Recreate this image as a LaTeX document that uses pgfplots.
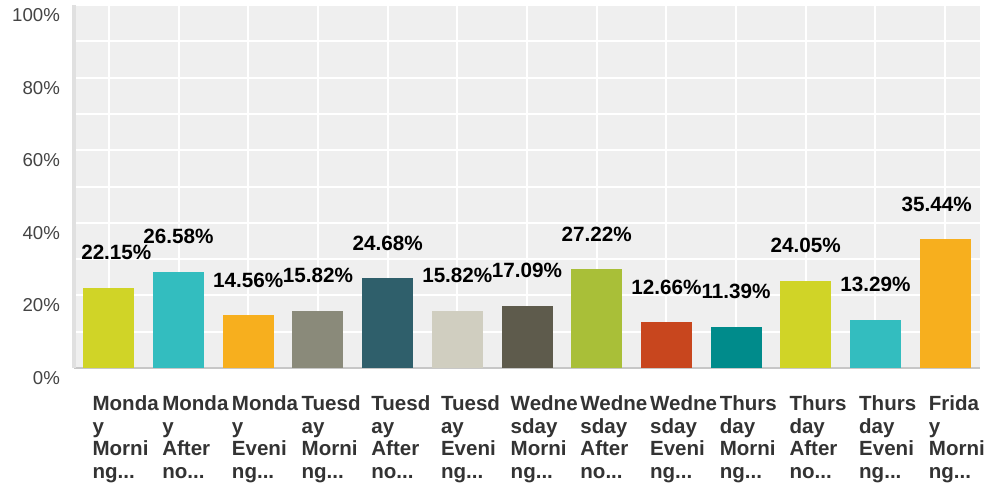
\documentclass[border=0pt]{standalone}
\usepackage{pgfplots}
\pgfplotsset{compat=1.18}
\usepackage{fontspec}
\setmainfont{Liberation Sans}
% 1px of the reference = 0.75pt
\definecolor{cLime}{HTML}{D0D427}
\definecolor{cCyan}{HTML}{33BDBF}
\definecolor{cOrange}{HTML}{F7AF1E}
\definecolor{cGrey}{HTML}{8A8A7A}
\definecolor{cPetrol}{HTML}{2F5F6B}
\definecolor{cBeige}{HTML}{D0CEC0}
\definecolor{cOlive}{HTML}{5E5B4C}
\definecolor{cGreen}{HTML}{A9BF38}
\definecolor{cRust}{HTML}{C8461E}
\definecolor{cTeal}{HTML}{008B8B}
\definecolor{plotbg}{HTML}{EFEFEF}
\definecolor{ticktext}{HTML}{444444}
\newcommand{\tr}{.{}.{}.}
\pgfplotsset{survbar/.style={ybar, fill=#1, draw=none, bar width=38.25pt, bar shift=0pt}}
\begin{document}
\begin{tikzpicture}
\begin{axis}[
    scale only axis, width=679.5pt, height=272.25pt,
    xmin=-0.5, xmax=12.5, ymin=0, ymax=100,
    /pgf/number format/assume math mode=true,
    axis background/.style={fill=plotbg},
    axis x line*=bottom, axis y line*=left,
    x axis line style={-, draw=black!22, line width=1.5pt},
    y axis line style={-, draw=black!12, line width=3pt},
    ytick={0,20,40,60,80,100}, minor ytick={10,30,50,70,90},
    yticklabels={0\%,20\%,40\%,60\%,80\%,100\%},
    grid=both, major grid style={white, line width=1.5pt},
    minor grid style={white, line width=1.5pt},
    major tick length=0pt, minor tick length=0pt,
    yticklabel style={font=\fontsize{14}{16}\selectfont, text=ticktext, yshift=-7.5pt, xshift=-7pt},
    xtick={0,1,2,3,4,5,6,7,8,9,10,11,12},
    xticklabels={{Monda\\y\\Morni\\ng\tr},{Monda\\y\\After\\no\tr},{Monda\\y\\Eveni\\ng\tr},
        {Tuesd\\ay\\Morni\\ng\tr},{Tuesd\\ay\\After\\no\tr},{Tuesd\\ay\\Eveni\\ng\tr},
        {Wedne\\sday\\Morni\\ng\tr},{Wedne\\sday\\After\\no\tr},{Wedne\\sday\\Eveni\\ng\tr},
        {Thurs\\day\\Morni\\ng\tr},{Thurs\\day\\After\\no\tr},{Thurs\\day\\Eveni\\ng\tr},
        {Frida\\y\\Morni\\ng\tr}},
    xticklabel style={font=\bfseries\fontsize{15.4}{16.9}\selectfont, text=black!80,
        anchor=north west, align=left, inner sep=0pt, xshift=-12.4pt, yshift=-20.75pt},
    nodes near coords={\pgfmathprintnumber[fixed,fixed zerofill,precision=2]{\pgfplotspointmeta}\%},
    every node near coord/.append style={font=\bfseries\fontsize{15.5}{18}\selectfont,
        text=black, anchor=base, yshift=21pt, inner sep=0pt},
]
\addplot[survbar=cLime, every node near coord/.append style={xshift=5.6pt}] coordinates {(0,22.15)};
\addplot[survbar=cCyan] coordinates {(1,26.58)};
\addplot[survbar=cOrange] coordinates {(2,14.56)};
\addplot[survbar=cGrey] coordinates {(3,15.82)};
\addplot[survbar=cPetrol] coordinates {(4,24.68)};
\addplot[survbar=cBeige] coordinates {(5,15.82)};
\addplot[survbar=cOlive] coordinates {(6,17.09)};
\addplot[survbar=cGreen] coordinates {(7,27.22)};
\addplot[survbar=cRust] coordinates {(8,12.66)};
\addplot[survbar=cTeal] coordinates {(9,11.39)};
\addplot[survbar=cLime] coordinates {(10,24.05)};
\addplot[survbar=cCyan] coordinates {(11,13.29)};
\addplot[survbar=cOrange, every node near coord/.append style={xshift=-6.4pt}] coordinates {(12,35.44)};
\end{axis}
\pgfresetboundingbox
\path[use as bounding box] ([xshift=-55.5pt,yshift=-88.5pt]current axis.south west)
    rectangle ([xshift=3.75pt,yshift=3.75pt]current axis.north east);
\end{tikzpicture}
\end{document}
